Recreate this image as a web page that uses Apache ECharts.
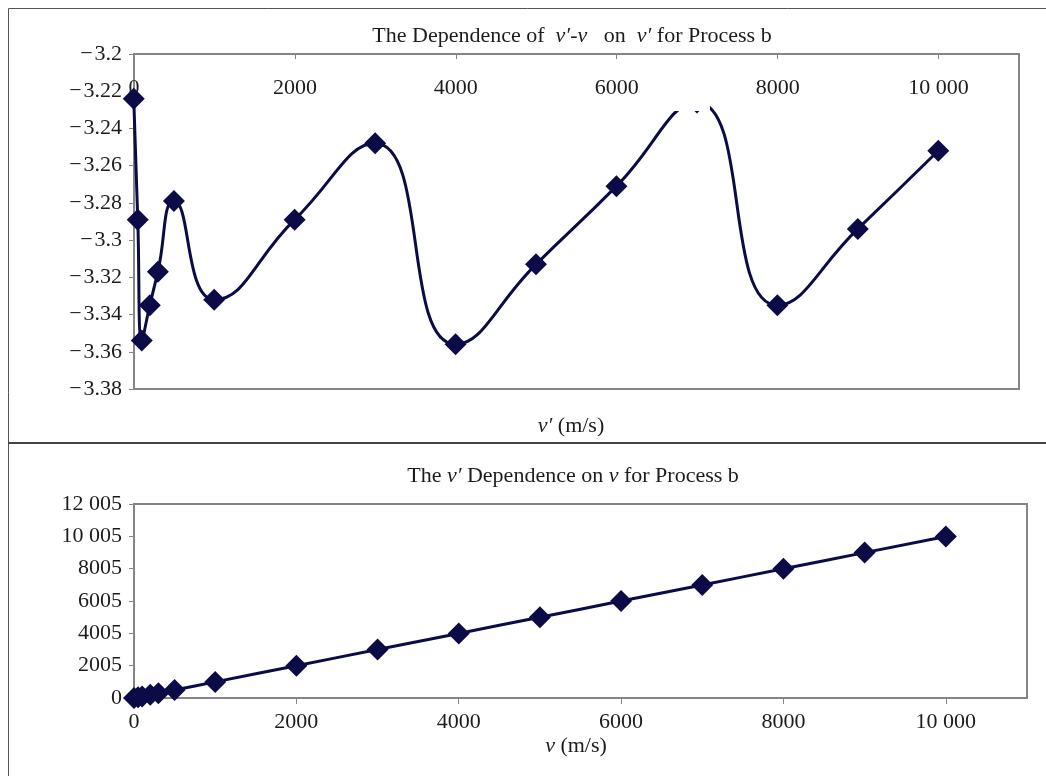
<!DOCTYPE html>
<html>
<head>
<meta charset="utf-8">
<script src="https://cdn.jsdelivr.net/npm/echarts@6/dist/echarts.min.js"></script>
<style>
  html, body { margin: 0; padding: 0; background: #ffffff; }
  #chart { width: 1046px; height: 776px; }
</style>
</head>
<body>
<div id="chart"></div>
<script>
// Process b: incident speed v (m/s) and the shift v′ − v (m/s)
const speedV = [0, 50, 100, 200, 300, 500, 1000, 2000, 3000, 4000, 5000, 6000, 7000, 8000, 9000, 10000];
const deltaV = [-3.224, -3.289, -3.354, -3.335, -3.317, -3.279, -3.332, -3.289, -3.248, -3.356, -3.313, -3.271, -3.226, -3.335, -3.294, -3.252];

// Tick positions
const topXTicks = [0, 2000, 4000, 6000, 8000, 10000];
const bottomXTicks = [0, 2000, 4000, 6000, 8000, 10000];
const bottomYTicks = [0, 2005, 4005, 6005, 8005, 10005, 12005];

const FONT = '"Liberation Serif", "Times New Roman", serif';
const FS = 22;
const INK = '#1c1c1c';
const MARK = '#0b0b47';
const FRAME = '#858585';

// v′ = v + (v′ − v)
const vPrime = speedV.map((v, i) => v + deltaV[i]);

function fmtNum(n) {
  const s = String(Math.round(n));
  return s.length > 4 ? s.slice(0, s.length - 3) + ' ' + s.slice(-3) : s;
}
function fmtDelta(n) {
  return String(+n.toFixed(2)).replace('-', '\u2212\u200A');
}

const chart = echarts.init(document.getElementById('chart'), null, { renderer: 'canvas' });

const labelStyle = { color: INK, fontFamily: FONT, fontSize: FS };
const axisLine = { show: true, onZero: false, lineStyle: { color: FRAME, width: 2 } };
const tickLine = { color: FRAME, width: 1 };

function txt(x, y, parts) {
  const rich = {
    n: { fontFamily: FONT, fontSize: FS, fill: INK, color: INK },
    i: { fontFamily: FONT, fontSize: FS, fontStyle: 'italic', fill: INK, color: INK }
  };
  return {
    type: 'text', x: x, y: y, z: 50,
    style: {
      text: parts, rich: rich, fill: INK,
      font: FS + 'px ' + FONT,
      align: 'center', verticalAlign: 'middle'
    }
  };
}

const option = {
  backgroundColor: '#ffffff',
  animation: false,
  grid: [
    { left: 134, top: 54, width: 885, height: 335, show: true, borderColor: FRAME, borderWidth: 2, containLabel: false },
    { left: 134, top: 504, width: 893, height: 194, show: true, borderColor: FRAME, borderWidth: 2, containLabel: false }
  ],
  xAxis: [
    {
      gridIndex: 0, type: 'value', position: 'top', min: 0, max: 11000,
      axisLine: axisLine,
      axisTick: { show: true, inside: true, length: 5, customValues: topXTicks, lineStyle: tickLine },
      axisLabel: Object.assign({ inside: true, margin: 23, customValues: topXTicks, formatter: fmtNum }, labelStyle),
      splitLine: { show: false }
    },
    {
      gridIndex: 1, type: 'value', position: 'bottom', min: 0, max: 11000,
      axisLine: axisLine,
      axisTick: { show: true, length: 6, customValues: bottomXTicks, lineStyle: tickLine },
      axisLabel: Object.assign({ margin: 13, customValues: bottomXTicks, formatter: fmtNum }, labelStyle),
      splitLine: { show: false }
    }
  ],
  yAxis: [
    {
      gridIndex: 0, type: 'value', min: -3.38, max: -3.2, interval: 0.02,
      axisLine: axisLine,
      axisTick: { show: true, length: 5, lineStyle: tickLine },
      axisLabel: Object.assign({ margin: 12, formatter: fmtDelta }, labelStyle),
      splitLine: { show: false }
    },
    {
      gridIndex: 1, type: 'value', min: 0, max: 12005,
      axisLine: axisLine,
      axisTick: { show: true, length: 5, customValues: bottomYTicks, lineStyle: tickLine },
      axisLabel: Object.assign({ margin: 12, customValues: bottomYTicks, formatter: fmtNum }, labelStyle),
      splitLine: { show: false }
    }
  ],
  series: [
    {
      name: "v′-v", type: 'line', xAxisIndex: 0, yAxisIndex: 0,
      data: vPrime.map((x, i) => [x, deltaV[i]]),
      smooth: 0.5, clip: false,
      symbol: 'diamond', symbolSize: 22,
      lineStyle: { color: MARK, width: 3 },
      itemStyle: { color: MARK }
    },
    {
      name: "v′", type: 'line', xAxisIndex: 1, yAxisIndex: 1,
      data: speedV.map((v, i) => [v, vPrime[i]]),
      smooth: 0.5, clip: false,
      symbol: 'diamond', symbolSize: 22,
      lineStyle: { color: MARK, width: 3 },
      itemStyle: { color: MARK }
    }
  ],
  graphic: [
    // page frame and panel divider
    { type: 'rect', z: 40, shape: { x: 8.5, y: 8.5, width: 1100, height: 1000 }, style: { fill: 'none', stroke: '#555555', lineWidth: 1 } },
    { type: 'line', z: 40, shape: { x1: 8, y1: 443, x2: 1046, y2: 443 }, style: { stroke: '#444444', lineWidth: 2 } },
    // blank patch over the 7000 m/s crest
    { type: 'rect', z: 45, shape: { x: 666, y: 57, width: 44, height: 54 }, style: { fill: '#ffffff' } },
    txt(572, 36, '{n|The Dependence of  }{i|v′-v}{n|   on  }{i|v′}{n| for Process b}'),
    txt(571, 426, '{i|v′}{n| (m/s)}'),
    txt(573, 476, '{n|The }{i|v′}{n| Dependence on }{i|v}{n| for Process b}'),
    txt(576, 746, '{i|v}{n| (m/s)}')
  ]
};

chart.setOption(option);
</script>
</body>
</html>
